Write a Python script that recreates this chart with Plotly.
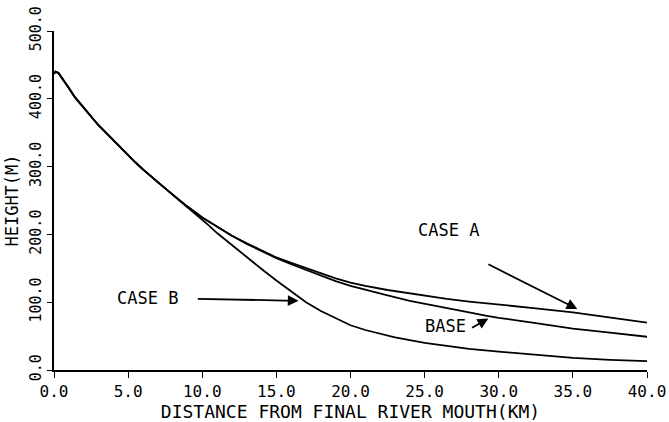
import plotly.graph_objects as go

# Shared upstream profile (all three cases coincide here)
x_common = [0.0, 0.1, 0.3, 0.5, 0.75, 1.0, 1.42, 2.0, 2.43, 3.0, 3.5, 4.0, 4.5, 5.0, 5.5, 6.0, 6.5, 7.0, 7.6, 8.0]
y_common = [437, 440, 438, 432, 424, 416, 402, 387, 375, 361, 350, 339, 327, 316, 306, 296, 286, 277, 266, 259]

# Downstream continuations
x_b = [8.5, 9.0, 9.5, 10.0, 10.4, 11.0, 12.0, 13.0, 14.0, 15.0, 16.0, 17.0, 18.0, 19.0, 20.0, 21.0, 22.0, 23.0,
       24.0, 25.0, 26.5, 28.0, 30.0, 32.5, 35.0, 37.5, 40.0]
y_b = [249, 240, 231, 222, 214, 202, 184, 166, 149, 132, 116, 100, 87, 76, 66, 59, 53, 48,
       44, 40, 35.5, 31, 27, 22, 18, 15, 13]

x_base = [8.5, 9.0, 10.0, 11.0, 12.0, 13.0, 14.0, 15.0, 16.0, 17.5, 19.0, 20.0, 21.0, 22.5, 24.0, 25.0, 26.5,
          28.0, 29.2, 30.0, 32.5, 35.0, 37.5, 40.0]
y_base = [250, 241, 225, 211, 198, 186, 175, 165, 156, 143, 131, 124, 118, 110, 102, 98, 91,
          85, 80, 77, 69, 61, 55, 49]

x_a = [8.5, 9.0, 10.0, 11.0, 12.0, 13.0, 14.0, 15.0, 16.0, 17.5, 19.0, 20.0, 21.0, 22.5, 24.0, 25.0, 26.5,
       28.0, 30.0, 32.5, 35.0, 37.5, 40.0]
y_a = [250, 241, 225, 211, 198, 187, 176, 166, 158, 146, 135, 129, 124, 118, 113, 110, 105,
       101, 97, 91, 85, 77, 70]

x_ticks = [0, 5, 10, 15, 20, 25, 30, 35, 40]
x_labels = ["0.0", "5.0", "10.0", "15.0", "20.0", "25.0", "30.0", "35.0", "40.0"]
y_ticks = [0, 100, 200, 300, 400, 500]
y_labels = ["0.0", "100.0", "200.0", "300.0", "400.0", "500.0"]

# annotations: text, label pos, arrow tail, arrow head
ann_text = ["CASE A", "CASE B", "BASE"]
ann_label_x = [26.6, 6.3, 26.4]
ann_label_y = [206, 106, 65]
ann_tail_x = [29.2, 9.6, 28.1]
ann_tail_y = [157, 105, 61]
ann_head_x = [35.3, 16.5, 29.3]
ann_head_y = [90, 102, 76]

FONT = "DejaVu Sans Mono"
line = dict(color="black", width=1.8)

fig = go.Figure()
fig.add_trace(go.Scatter(x=x_common + x_a, y=y_common + y_a, mode="lines", line=line))
fig.add_trace(go.Scatter(x=x_common + x_base, y=y_common + y_base, mode="lines", line=line))
fig.add_trace(go.Scatter(x=x_common + x_b, y=y_common + y_b, mode="lines", line=line))

for i, t in enumerate(ann_text):
    fig.add_annotation(x=ann_label_x[i], y=ann_label_y[i], text=t, showarrow=False,
                       font=dict(family=FONT, size=17, color="black"))
    fig.add_annotation(x=ann_head_x[i], y=ann_head_y[i], ax=ann_tail_x[i], ay=ann_tail_y[i],
                       axref="x", ayref="y", xref="x", yref="y", text="",
                       showarrow=True, arrowhead=2, arrowsize=1.2, arrowwidth=1.8,
                       arrowcolor="black", standoff=0, startstandoff=0)

fig.update_layout(
    width=669, height=422,
    margin=dict(l=54, r=22, t=31, b=52),
    paper_bgcolor="white", plot_bgcolor="white",
    showlegend=False,
    font=dict(family=FONT, color="black"),
)
fig.update_xaxes(range=[0, 40], tickvals=x_ticks, ticktext=x_labels, automargin=False,
                 showgrid=False, zeroline=False, showline=True, linecolor="black", linewidth=1.5,
                 ticks="outside", ticklen=6, tickwidth=1.3, tickcolor="black",
                 tickfont=dict(family=FONT, size=16),
                 title=dict(text="DISTANCE FROM FINAL RIVER MOUTH(KM)", font=dict(family=FONT, size=18), standoff=0))
fig.update_yaxes(range=[0, 500], tickvals=y_ticks, ticktext=y_labels, automargin=False,
                 showgrid=False, zeroline=False, showline=True, linecolor="black", linewidth=1.5,
                 ticks="outside", ticklen=5, tickwidth=1.3, tickcolor="black",
                 tickangle=-90,
                 tickfont=dict(family=FONT, size=15),
                 title=dict(text="HEIGHT(M)", font=dict(family=FONT, size=17), standoff=4))

fig.write_html("out.html")
